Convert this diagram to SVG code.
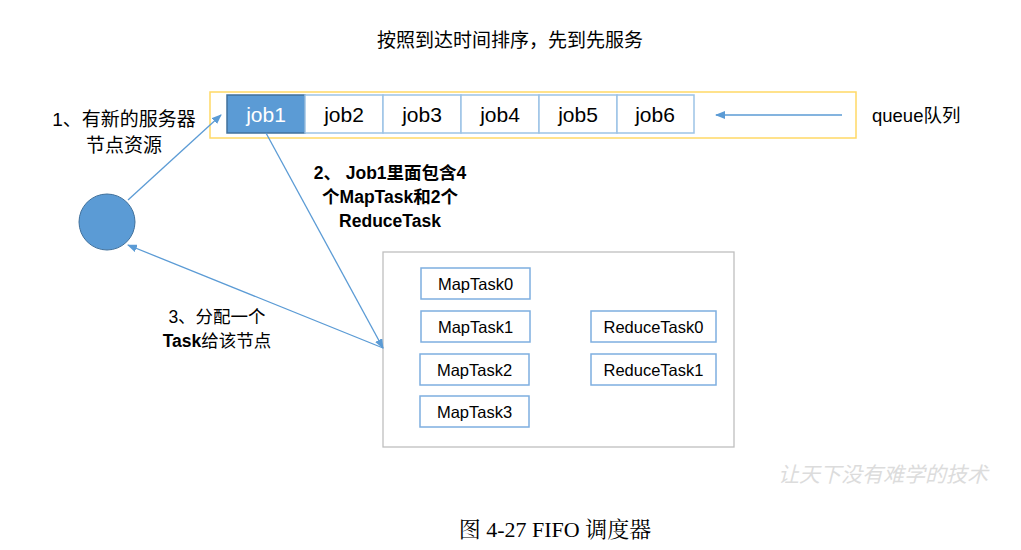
<svg xmlns="http://www.w3.org/2000/svg" width="1021" height="550" viewBox="0 0 1021 550">
<style>
.cjk{font-family:"Liberation Sans","Noto Sans CJK SC",sans-serif;fill:#000}
.job{font-family:"Liberation Sans",sans-serif;font-size:21px;text-anchor:middle;fill:#000}
.cell{fill:#fff;stroke:#9dc3e6;stroke-width:1.5}
.task{fill:#fff;stroke:#7eaee0;stroke-width:1.5}
.tt{font-family:"Liberation Sans",sans-serif;font-size:16.5px;text-anchor:middle;fill:#000}
.conn{stroke:#5b9bd5;stroke-width:1.3;fill:none}
.b{font-weight:bold}
</style>
<defs>
<marker id="ah" markerWidth="10" markerHeight="8" refX="9" refY="4" orient="auto" markerUnits="userSpaceOnUse">
<path d="M0,0 L10,4 L0,8 Z" fill="#5b9bd5"/>
</marker>
</defs>
<rect width="1021" height="550" fill="#fff"/>
<text class="cjk" x="510" y="47" font-size="19" text-anchor="middle">按照到达时间排序，先到先服务</text>
<g id="queue">
<rect x="210" y="92" width="646" height="46" fill="#fff" stroke="#ffd966" stroke-width="1.5"/>
</g>
<g id="job1"><rect x="227" y="95" width="78" height="38" fill="#5b9bd5" stroke="#41719c" stroke-width="1.5"/><text class="job" x="266" y="122" style="fill:#fff">job1</text></g>
<g id="job2"><rect class="cell" x="305" y="95" width="78" height="38"/><text class="job" x="344" y="122">job2</text></g>
<g id="job3"><rect class="cell" x="383" y="95" width="78" height="38"/><text class="job" x="422" y="122">job3</text></g>
<g id="job4"><rect class="cell" x="461" y="95" width="78" height="38"/><text class="job" x="500" y="122">job4</text></g>
<g id="job5"><rect class="cell" x="539" y="95" width="78" height="38"/><text class="job" x="578" y="122">job5</text></g>
<g id="job6"><rect class="cell" x="617" y="95" width="77" height="38"/><text class="job" x="655" y="122">job6</text></g>
<g id="queue-label"><text class="cjk" x="872" y="122" font-size="18.5">queue队列</text></g>
<g id="node"><circle cx="107" cy="222" r="28" fill="#5b9bd5" stroke="#41719c" stroke-width="1"/></g>
<g id="tasks">
<rect x="383" y="252" width="351" height="195" fill="#fff" stroke="#bfbfbf" stroke-width="1.3"/>
</g>
<g id="MapTask0"><rect class="task" x="421" y="268" width="109" height="31"/><text class="tt" x="475.5" y="289.5">MapTask0</text></g>
<g id="MapTask1"><rect class="task" x="421" y="311" width="109" height="31"/><text class="tt" x="475.5" y="332.5">MapTask1</text></g>
<g id="MapTask2"><rect class="task" x="420" y="354" width="109" height="31"/><text class="tt" x="474.5" y="375.5">MapTask2</text></g>
<g id="MapTask3"><rect class="task" x="420" y="396" width="109" height="31"/><text class="tt" x="474.5" y="417.5">MapTask3</text></g>
<g id="ReduceTask0"><rect class="task" x="591" y="311" width="125" height="31"/><text class="tt" x="653.5" y="332.5">ReduceTask0</text></g>
<g id="ReduceTask1"><rect class="task" x="591" y="354" width="125" height="31"/><text class="tt" x="653.5" y="375.5">ReduceTask1</text></g>
<g id="connectors">
<line class="conn" x1="842" y1="115" x2="716" y2="115" marker-end="url(#ah)"/>
<line class="conn" x1="128" y1="200" x2="221" y2="115" marker-end="url(#ah)"/>
<line class="conn" x1="266" y1="133" x2="383" y2="348" marker-end="url(#ah)"/>
<line class="conn" x1="383" y1="348" x2="128" y2="245" marker-end="url(#ah)"/>
</g>
<g id="labels">
<text class="cjk" x="124" y="126" font-size="19" text-anchor="middle">1、有新的服务器</text>
<text class="cjk" x="124" y="152" font-size="19" text-anchor="middle">节点资源</text>
<text class="cjk b" x="390" y="179" font-size="17.5" text-anchor="middle">2、 Job1里面包含4</text>
<text class="cjk b" x="390" y="203" font-size="17.5" text-anchor="middle">个MapTask和2个</text>
<text class="cjk b" x="390" y="227" font-size="17.5" text-anchor="middle">ReduceTask</text>
<text class="cjk" x="217" y="323" font-size="17.5" text-anchor="middle">3、分配一个</text>
<text class="cjk" x="217" y="347" font-size="17.5" text-anchor="middle"><tspan font-weight="bold">Task</tspan>给该节点</text>
</g>
<text x="883" y="482" font-family="'Noto Sans CJK SC',sans-serif" font-size="21" fill="#dcdcdc" text-anchor="middle" font-style="italic">让天下没有难学的技术</text>
<text x="555" y="537" font-family="'Liberation Serif','Noto Serif CJK SC','Noto Sans CJK SC',serif" font-size="22" text-anchor="middle" fill="#000">图 4-27 FIFO 调度器</text>
</svg>
